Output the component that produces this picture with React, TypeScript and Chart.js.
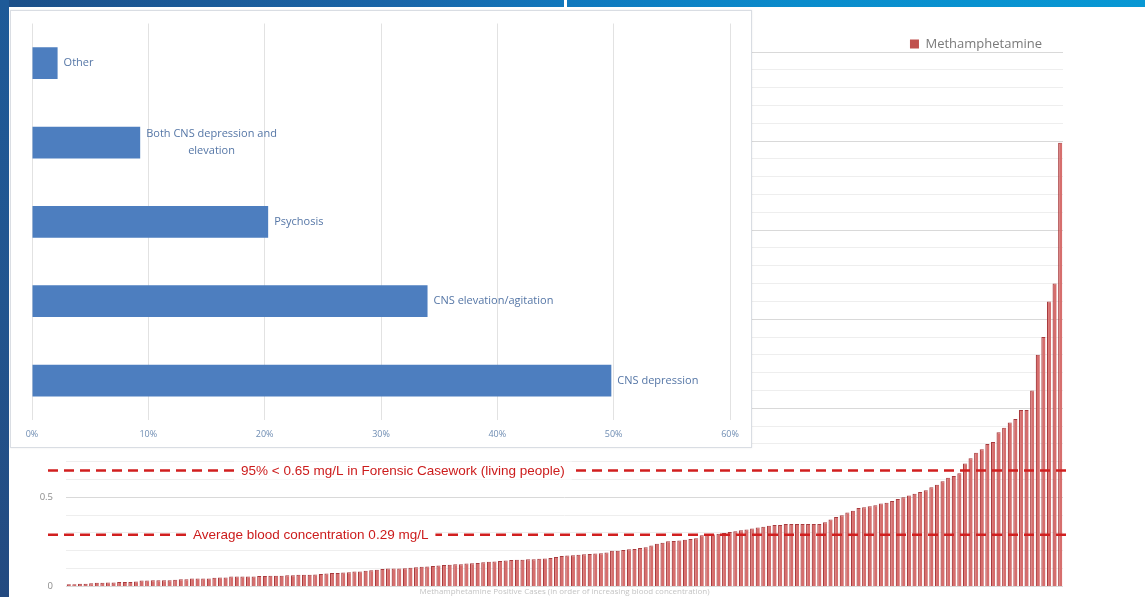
import React, { useEffect, useRef } from "react";
import { Chart, registerables } from "chart.js";

Chart.register(...registerables);

// ---------- Main chart data (blood concentration, mg/L) ----------
const concentrations: number[] = [
  0.012, 0.012, 0.015, 0.015, 0.018,
  0.02, 0.02, 0.022, 0.022, 0.025, 0.025, 0.025, 0.028,
  0.033, 0.033, 0.035, 0.035, 0.035, 0.035, 0.038, 0.04, 0.04,
  0.045, 0.045, 0.045, 0.045, 0.048, 0.05, 0.05, 0.055, 0.055,
  0.056, 0.056, 0.056, 0.058, 0.058, 0.06, 0.06, 0.06, 0.062, 0.062, 0.065, 0.065, 0.065, 0.067,
  0.07, 0.072, 0.075, 0.075, 0.078, 0.08, 0.084, 0.084, 0.088, 0.09, 0.094, 0.097, 0.1,
  0.1, 0.1, 0.102, 0.105, 0.108, 0.11, 0.112, 0.115, 0.118, 0.12, 0.122, 0.124,
  0.124, 0.128, 0.13, 0.132, 0.135, 0.138, 0.14, 0.142, 0.145, 0.148, 0.15,
  0.15, 0.152, 0.152, 0.155, 0.157, 0.16, 0.165, 0.17, 0.174,
  0.175, 0.178, 0.18, 0.182, 0.184, 0.186, 0.19, 0.2,
  0.2, 0.205, 0.208, 0.21, 0.215, 0.22, 0.23, 0.24, 0.245, 0.253,
  0.255, 0.258, 0.262, 0.266, 0.27, 0.287, 0.29, 0.292, 0.295, 0.3,
  0.305, 0.31, 0.315, 0.32, 0.325, 0.33, 0.335, 0.34, 0.345, 0.345,
  0.35, 0.35, 0.35, 0.35, 0.35, 0.35, 0.35, 0.36, 0.375,
  0.39, 0.4, 0.415, 0.425, 0.44, 0.445, 0.45, 0.455, 0.465, 0.47,
  0.48, 0.49, 0.5, 0.51, 0.52, 0.53, 0.54, 0.556, 0.57, 0.59,
  0.61, 0.62, 0.635, 0.69, 0.72, 0.75, 0.77, 0.8, 0.81, 0.865,
  0.89, 0.92, 0.94, 0.99, 0.99, 1.1, 1.3, 1.4, 1.6, 1.7, 2.49,
];
const caseLabels: string[] = concentrations.map((_, i) => "Case " + (i + 1));
const seriesName = "Methamphetamine";
const xAxisTitle =
  "Methamphetamine Positive Cases (in order of increasing blood concentration)";
const yMin = 0;
const yMax = 3;
const yStep = 0.1;

// Reference lines (mg/L)
const refValues: number[] = [0.65, 0.29];
const refLabels: string[] = [
  "95% < 0.65 mg/L in Forensic Casework (living people)",
  "Average blood concentration 0.29 mg/L",
];

// ---------- Inset chart data (% of cases) ----------
const effectCategories: (string | string[])[] = [
  "Other",
  ["Both CNS depression and", "elevation"],
  "Psychosis",
  "CNS elevation/agitation",
  "CNS depression",
];
const effectPercents: number[] = [2.2, 9.3, 20.3, 34.0, 49.8];
const percentMin = 0;
const percentMax = 60;
const percentStep = 10;

const refLinePlugin = {
  id: "refLines",
  afterDatasetsDraw(chart: any) {
    const { ctx, chartArea, scales } = chart;
    const textOffsets = [175, 127];
    ctx.save();
    refValues.forEach((v, i) => {
      const y = scales.y.getPixelForValue(v);
      ctx.setLineDash([10, 6]);
      ctx.strokeStyle = "#d11f1f";
      ctx.lineWidth = 2.5;
      ctx.beginPath();
      ctx.moveTo(chartArea.left - 18, y);
      ctx.lineTo(chartArea.right + 5, y);
      ctx.stroke();
      ctx.setLineDash([]);
      ctx.font = '13.5px "Liberation Sans", Arial, sans-serif';
      const tx = chartArea.left + textOffsets[i];
      const w = ctx.measureText(refLabels[i]).width;
      ctx.fillStyle = "#ffffff";
      ctx.fillRect(tx - 7, y - 9, w + 14, 18);
      ctx.fillStyle = "#cc1c1c";
      ctx.textBaseline = "middle";
      ctx.textAlign = "left";
      ctx.fillText(refLabels[i], tx, y + 0.5);
    });
    ctx.restore();
  },
};

const barLabelPlugin = {
  id: "barLabels",
  afterDatasetsDraw(chart: any) {
    const { ctx } = chart;
    const meta = chart.getDatasetMeta(0);
    ctx.save();
    ctx.font = '11px "Open Sans", sans-serif';
    ctx.fillStyle = "#5576a6";
    ctx.textBaseline = "middle";
    ctx.textAlign = "left";
    meta.data.forEach((bar: any, i: number) => {
      const lab = effectCategories[i];
      const lines = Array.isArray(lab) ? lab : [lab];
      const widths = lines.map((l) => ctx.measureText(l).width);
      const blockW = Math.max(...widths);
      const lh = 17;
      lines.forEach((l, j) => {
        const y = bar.y + (j - (lines.length - 1) / 2) * lh;
        ctx.fillText(l, bar.x + 6 + (blockW - widths[j]) / 2, y);
      });
    });
    ctx.restore();
  },
};

function MainChart() {
  const ref = useRef<HTMLCanvasElement | null>(null);
  useEffect(() => {
    if (!ref.current) return;
    const chart = new Chart(ref.current, {
      type: "bar",
      data: {
        labels: caseLabels,
        datasets: [
          {
            label: seriesName,
            data: concentrations,
            backgroundColor: "#d66e6d",
            borderColor: "#a83a3d",
            borderWidth: { left: 1.2, top: 1, right: 0, bottom: 0 } as any,
            borderSkipped: false,
            barPercentage: 0.74,
            categoryPercentage: 1,
          },
        ],
      },
      options: {
        responsive: true,
        maintainAspectRatio: false,
        animation: false,
        layout: { padding: { left: 0, right: 82, top: 16.5, bottom: 0 } },
        plugins: {
          legend: {
            display: true,
            position: "top",
            align: "end",
            maxHeight: 35.5,
            labels: {
              boxWidth: 9,
              boxHeight: 9,
              padding: 21,
              color: "#7a7a7a",
              font: { family: "Open Sans", size: 13 },
              generateLabels: (ch: any) =>
                Chart.defaults.plugins.legend.labels
                  .generateLabels(ch)
                  .map((it: any) => ({ ...it, fillStyle: "#c0504d", strokeStyle: "#c0504d", lineWidth: 0 })),
            },
          },
          tooltip: { enabled: false },
        },
        scales: {
          x: {
            grid: { display: false, drawTicks: false },
            border: { display: false },
            ticks: { display: false },
            title: {
              display: true,
              text: xAxisTitle,
              color: "#c4c4c4",
              font: { family: "Open Sans", size: 8 },
              padding: { top: 1, bottom: 0 },
            },
          },
          y: {
            min: yMin,
            max: yMax,
            afterFit: (s: any) => {
              s.width = 66;
            },
            ticks: {
              stepSize: yStep,
              autoSkip: false,
              padding: 0,
              color: "#8c8c8c",
              font: { family: "Open Sans", size: 9.5 },
              callback: (v: any) => {
                const n = Number(v);
                return Math.round(n * 10) % 5 === 0 ? String(Number(n.toFixed(1))) : "";
              },
            },
            grid: {
              drawTicks: true,
              tickLength: 13,
              tickColor: "rgba(0,0,0,0)",
              color: (c: any) => {
                const v = c.tick ? c.tick.value : 0;
                return Math.round(v * 10) % 5 === 0 ? "#d9d9d9" : "#eeeeee";
              },
            },
            border: { display: false },
          },
        },
      },
      plugins: [refLinePlugin],
    });
    return () => chart.destroy();
  }, []);
  return <canvas ref={ref} />;
}

function InsetChart() {
  const ref = useRef<HTMLCanvasElement | null>(null);
  useEffect(() => {
    if (!ref.current) return;
    const chart = new Chart(ref.current, {
      type: "bar",
      data: {
        labels: effectCategories as any,
        datasets: [
          {
            label: "Effects",
            data: effectPercents,
            backgroundColor: "#4d7ebf",
            borderWidth: 0,
            barPercentage: 0.4,
            categoryPercentage: 1,
          },
        ],
      },
      options: {
        indexAxis: "y",
        responsive: true,
        maintainAspectRatio: false,
        animation: false,
        layout: { padding: { left: 21, right: 21, top: 12.5, bottom: -2 } },
        plugins: { legend: { display: false }, tooltip: { enabled: false } },
        scales: {
          y: { display: false },
          x: {
            min: percentMin,
            max: percentMax,
            ticks: {
              stepSize: percentStep,
              padding: 9,
              color: "#6f8db3",
              font: { family: "Open Sans", size: 9 },
              callback: (v: any) => v + "%",
            },
            grid: { drawTicks: false, color: "#e2e2e2" },
            border: { display: false },
          },
        },
      },
      plugins: [barLabelPlugin],
    });
    return () => chart.destroy();
  }, []);
  return <canvas ref={ref} />;
}

export default function App() {
  return (
    <div
      style={{
        position: "absolute",
        left: 0,
        top: 0,
        width: 1145,
        height: 597,
        overflow: "hidden",
        background: "#ffffff",
        fontFamily: "Open Sans, sans-serif",
      }}
    >
      <div
        style={{
          position: "absolute",
          left: 0,
          top: 0,
          width: 1145,
          height: 7,
          background:
            "linear-gradient(to right, #1c4f88 0%, #1a66a8 35%, #1078bd 50%, #0a8ccc 70%, #0898d4 100%)",
        }}
      />
      <div
        style={{
          position: "absolute",
          left: 564,
          top: 0,
          width: 3,
          height: 7,
          background: "#ffffff",
        }}
      />
      <div
        style={{
          position: "absolute",
          left: 0,
          top: 0,
          width: 9,
          height: 597,
          background: "linear-gradient(to bottom, #1e5a98 0%, #22558f 50%, #234a80 100%)",
        }}
      />
      <div style={{ position: "absolute", left: 0, top: 0, width: 1145, height: 597 }}>
        <MainChart />
      </div>
      <div
        style={{
          position: "absolute",
          left: 10,
          top: 10,
          width: 742,
          height: 438,
          boxSizing: "border-box",
          border: "1px solid #d9dde3",
          background: "#ffffff",
          boxShadow: "0 0 2px rgba(0,0,0,0.08)",
        }}
      >
        <div style={{ position: "absolute", left: 0, top: 0, width: 740, height: 436 }}>
          <InsetChart />
        </div>
      </div>
    </div>
  );
}
